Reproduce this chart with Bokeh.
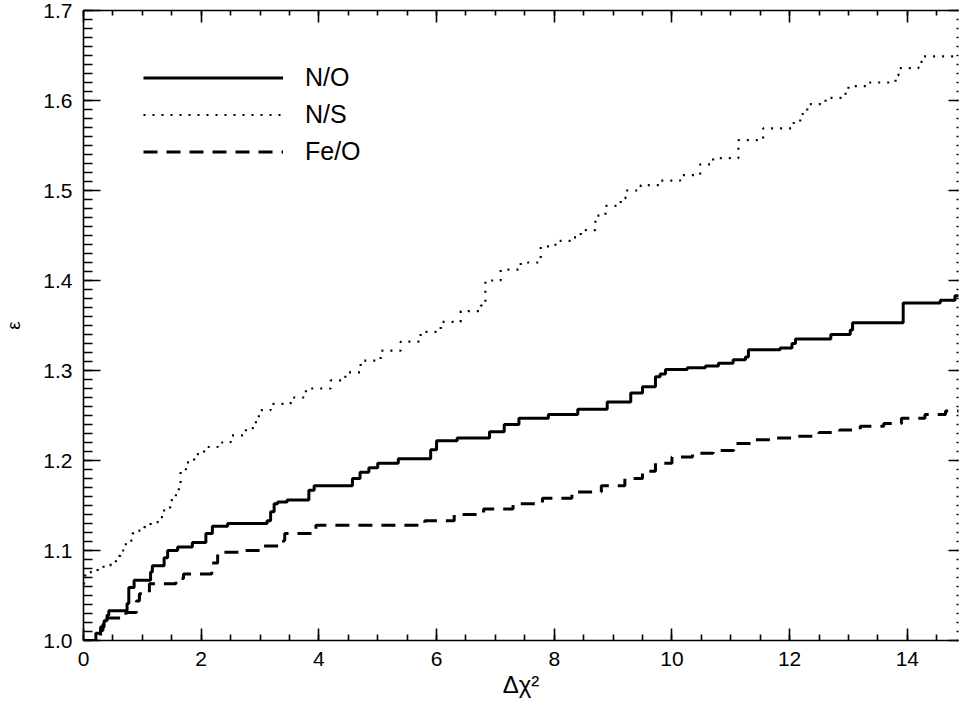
from bokeh.plotting import figure
from bokeh.models import LinearAxis, FixedTicker, Range1d, PrintfTickFormatter, CustomJSTickFormatter
from bokeh.embed import file_html
from bokeh.resources import INLINE

# ---- data ----
no_x = [0.0, 0.21, 0.29, 0.35, 0.40, 0.43, 0.74, 0.77, 0.86, 1.14, 1.17, 1.37, 1.43, 1.60, 1.85,
        2.08, 2.19, 2.45, 3.12, 3.18, 3.24, 3.30, 3.46, 3.83, 3.92, 4.57, 4.70, 4.85, 5.00, 5.35,
        5.90, 6.00, 6.35, 6.90, 7.15, 7.40, 7.90, 8.40, 8.90, 9.30, 9.50, 9.72, 9.80, 9.89, 10.26,
        10.57, 10.79, 11.04, 11.25, 11.30, 11.84, 12.04, 12.10, 12.70, 13.03, 13.07, 13.93, 14.56,
        14.81, 14.9]
no_y = [1.0, 1.008, 1.015, 1.022, 1.028, 1.033, 1.041, 1.059, 1.067, 1.076, 1.083, 1.092, 1.100,
        1.104, 1.109, 1.119, 1.127, 1.130, 1.133, 1.143, 1.152, 1.154, 1.156, 1.167, 1.172, 1.180,
        1.187, 1.192, 1.197, 1.202, 1.212, 1.222, 1.225, 1.232, 1.240, 1.247, 1.251, 1.257, 1.265,
        1.275, 1.282, 1.293, 1.296, 1.301, 1.303, 1.305, 1.308, 1.312, 1.315, 1.323, 1.325, 1.330,
        1.335, 1.340, 1.345, 1.353, 1.375, 1.378, 1.383, 1.383]

ns_x = [0.0, 0.01, 0.03, 0.10, 0.24, 0.34, 0.46, 0.55, 0.63, 0.72, 0.83, 0.92, 1.03, 1.14, 1.26,
        1.37, 1.48, 1.57, 1.62, 1.65, 1.74, 1.88, 2.05, 2.28, 2.50, 2.76, 2.93, 2.98, 3.18, 3.52,
        3.78, 4.20, 4.45, 4.71, 5.05, 5.39, 5.73, 6.07, 6.41, 6.75, 6.83, 7.09, 7.43, 7.77, 8.02,
        8.28, 8.45, 8.70, 8.87, 9.13, 9.21, 9.47, 9.80, 10.14, 10.48, 10.70, 11.13, 11.55, 12.04,
        12.18, 12.30, 12.61, 12.95, 13.00, 13.34, 13.80, 13.85, 14.19, 14.25, 14.9]
ns_y = [1.063, 1.069, 1.074, 1.076, 1.080, 1.083, 1.087, 1.094, 1.100, 1.111, 1.119, 1.122, 1.126,
        1.131, 1.137, 1.148, 1.156, 1.163, 1.174, 1.189, 1.198, 1.207, 1.215, 1.220, 1.228, 1.236,
        1.244, 1.256, 1.263, 1.270, 1.280, 1.289, 1.298, 1.311, 1.322, 1.332, 1.343, 1.354, 1.366,
        1.372, 1.400, 1.412, 1.420, 1.438, 1.444, 1.448, 1.456, 1.472, 1.483, 1.491, 1.500, 1.506,
        1.511, 1.517, 1.529, 1.536, 1.556, 1.569, 1.575, 1.585, 1.596, 1.603, 1.613, 1.616, 1.620,
        1.628, 1.636, 1.643, 1.649, 1.649]

fe_x = [0.0, 0.21, 0.29, 0.33, 0.40, 0.72, 0.90, 0.95, 1.12, 1.57, 1.70, 2.18, 2.28, 2.70, 3.05,
        3.40, 3.42, 3.90, 3.95, 5.80, 6.30, 6.80, 7.30, 7.80, 8.30, 8.80, 9.20, 9.50, 9.72, 10.00,
        10.35, 10.70, 11.05, 11.35, 11.75, 12.10, 12.50, 12.85, 13.20, 13.60, 13.90, 14.30, 14.65,
        14.9]
fe_y = [0.999, 1.004, 1.011, 1.018, 1.025, 1.031, 1.044, 1.052, 1.063, 1.069, 1.074, 1.086, 1.098,
        1.100, 1.105, 1.111, 1.119, 1.124, 1.128, 1.133, 1.140, 1.146, 1.152, 1.158, 1.165, 1.172,
        1.180, 1.188, 1.197, 1.204, 1.208, 1.211, 1.219, 1.223, 1.225, 1.227, 1.231, 1.234, 1.238,
        1.241, 1.247, 1.251, 1.255, 1.255]

x_major = [0, 2, 4, 6, 8, 10, 12, 14]
x_minor = [0.5 * i for i in range(0, 30)]
y_major = [1.0, 1.1, 1.2, 1.3, 1.4, 1.5, 1.6, 1.7]
y_minor = [round(1.0 + 0.01 * i, 2) for i in range(0, 71)]

FONT = "Liberation Sans"

p = figure(frame_width=875, frame_height=630, output_backend="svg", toolbar_location=None,
           x_range=Range1d(0, 14.87), y_range=Range1d(1.0, 1.7),
           min_border_left=83, min_border_right=2, min_border_top=10, min_border_bottom=70,
           x_axis_label="Δχ²", y_axis_label="ε")
p.outline_line_color = None
p.xgrid.visible = False
p.ygrid.visible = False
p.background_fill_color = "white"
p.border_fill_color = "white"

xt = FixedTicker(ticks=x_major, minor_ticks=x_minor)
yt = FixedTicker(ticks=y_major, minor_ticks=y_minor)
blank = CustomJSTickFormatter(code="return '';")

def style(ax, major_in, minor_in):
    ax.axis_line_color = "black"
    ax.axis_line_width = 1.6
    ax.major_tick_line_color = "black"
    ax.minor_tick_line_color = "black"
    ax.major_tick_line_width = 1.6
    ax.minor_tick_line_width = 1.6
    ax.major_tick_in = major_in
    ax.major_tick_out = 0
    ax.minor_tick_in = minor_in
    ax.minor_tick_out = 0
    ax.major_label_text_font = FONT
    ax.major_label_text_color = "black"
    ax.major_label_text_font_size = "21px"
    ax.axis_label_text_font = FONT
    ax.axis_label_text_font_style = "normal"
    ax.axis_label_text_color = "black"

xa = p.xaxis[0]
xa.ticker = xt
style(xa, 12, 6)
xa.major_label_standoff = 11
xa.axis_label_standoff = 2
xa.axis_label_text_font_size = "24px"

ya = p.yaxis[0]
ya.ticker = yt
ya.formatter = PrintfTickFormatter(format="%.1f")
style(ya, 17, 9)
ya.major_label_standoff = 11
ya.axis_label_standoff = 16
ya.axis_label_text_font_size = "19px"

top = LinearAxis(ticker=xt, formatter=blank)
style(top, 12, 5)
top.major_label_standoff = 0
p.add_layout(top, "above")

right = LinearAxis(ticker=yt, formatter=blank)
style(right, 10, 2)
right.major_label_standoff = 0
right.axis_line_color = None
p.add_layout(right, "right")

p.step(no_x, no_y, mode="after", line_color="black", line_width=3, legend_label="N/O")
p.step(ns_x, ns_y, mode="after", line_color="black", line_width=2.2, line_dash="2 7",
       legend_label="N/S")
p.step(fe_x, fe_y, mode="after", line_color="black", line_width=3, line_dash="14 9",
       legend_label="Fe/O")

lg = p.legend[0]
lg.location = (60, 470)
lg.glyph_width = 140
lg.glyph_height = 37
lg.label_height = 37
lg.spacing = 0
lg.padding = 0
lg.margin = 0
lg.label_standoff = 22
lg.label_text_font = FONT
lg.label_text_font_size = "25px"
lg.label_text_color = "black"
lg.border_line_alpha = 0
lg.background_fill_alpha = 0

open("out.html", "w").write(file_html(p, INLINE))
